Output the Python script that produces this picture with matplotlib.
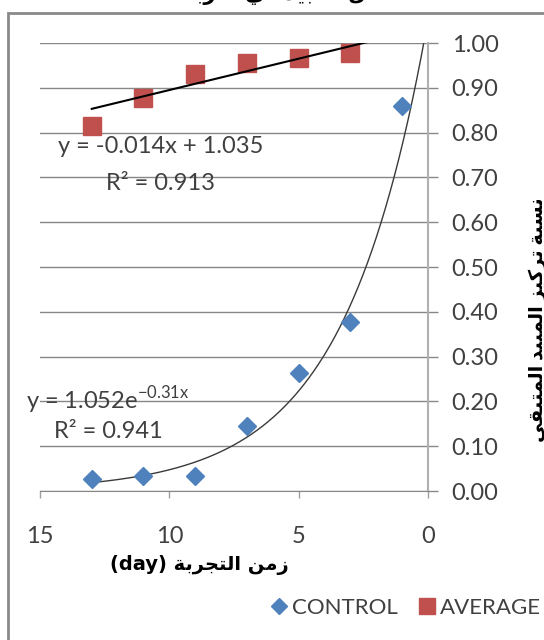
"""Remaining-fraction chart: CONTROL vs AVERAGE over experiment days, with trendlines."""

import matplotlib
matplotlib.use("Agg")
import matplotlib.pyplot as plt
import numpy as np
from matplotlib.patches import Rectangle

# data
days_control = [13, 11, 9, 7, 5, 3, 1]
control = [0.027, 0.034, 0.034, 0.145, 0.263, 0.377, 0.86]
days_average = [13, 11, 9, 7, 5, 3]
average = [0.815, 0.877, 0.93, 0.955, 0.966, 0.977]

# trendline coefficients as printed on the chart
lin_slope, lin_icpt = -0.014, 1.035
exp_a, exp_b = 1.052, -0.31

x_ticks = [15, 10, 5, 0]
y_ticks = [0.0, 0.1, 0.2, 0.3, 0.4, 0.5, 0.6, 0.7, 0.8, 0.9, 1.0]

BLUE = "#4F81BD"
RED = "#C0504D"
GRID = "#878787"
TEXT = "#404040"

# minimal Arabic shaping (isolated, final, initial, medial); None = right-joining only
ARABIC_FORMS = {
    "ا": ("\uFE8D", "\uFE8E", None, None),
    "ب": ("\uFE8F", "\uFE90", "\uFE91", "\uFE92"),
    "ة": ("\uFE93", "\uFE94", None, None),
    "ت": ("\uFE95", "\uFE96", "\uFE97", "\uFE98"),
    "ج": ("\uFE9D", "\uFE9E", "\uFE9F", "\uFEA0"),
    "ح": ("\uFEA1", "\uFEA2", "\uFEA3", "\uFEA4"),
    "د": ("\uFEA9", "\uFEAA", None, None),
    "ر": ("\uFEAD", "\uFEAE", None, None),
    "ز": ("\uFEAF", "\uFEB0", None, None),
    "س": ("\uFEB1", "\uFEB2", "\uFEB3", "\uFEB4"),
    "ف": ("\uFED1", "\uFED2", "\uFED3", "\uFED4"),
    "ق": ("\uFED5", "\uFED6", "\uFED7", "\uFED8"),
    "ك": ("\uFED9", "\uFEDA", "\uFEDB", "\uFEDC"),
    "ل": ("\uFEDD", "\uFEDE", "\uFEDF", "\uFEE0"),
    "م": ("\uFEE1", "\uFEE2", "\uFEE3", "\uFEE4"),
    "ن": ("\uFEE5", "\uFEE6", "\uFEE7", "\uFEE8"),
    "ي": ("\uFEF1", "\uFEF2", "\uFEF3", "\uFEF4"),
}


def shape_arabic(text: str) -> str:
    """Return presentation forms in visual (left-to-right) order."""
    out = []
    for i, ch in enumerate(text):
        forms = ARABIC_FORMS.get(ch)
        if forms is None:
            out.append(ch)
            continue
        prev = text[i - 1] if i > 0 else ""
        nxt = text[i + 1] if i + 1 < len(text) else ""
        joins_prev = prev in ARABIC_FORMS and ARABIC_FORMS[prev][2] is not None
        joins_next = nxt in ARABIC_FORMS and forms[2] is not None
        if joins_prev and joins_next:
            out.append(forms[3])
        elif joins_prev:
            out.append(forms[1])
        elif joins_next:
            out.append(forms[2])
        else:
            out.append(forms[0])
    return "".join(reversed(out))


title_text = shape_arabic("تحلل المبيد في التربة")
xlabel_text = "(day) " + shape_arabic("زمن التجربة")
ylabel_text = shape_arabic("نسبة تركيز المبيد المتبقي")

plt.rcParams["font.family"] = ["Lato", "DejaVu Sans"]
plt.rcParams["mathtext.fontset"] = "custom"
plt.rcParams["mathtext.rm"] = "Lato"

W, H = 544, 640
fig = plt.figure(figsize=(W / 100, H / 100), dpi=100)

# chart frame
fig.patches.append(Rectangle((8 / W, -0.1), 1.2, 1 - 13 / H + 0.1,
                             transform=fig.transFigure, fill=False,
                             edgecolor="#8a8a8a", linewidth=2))

ax = fig.add_axes([40 / W, 1 - 491 / H, 388 / W, 448 / H])
ax.set_xlim(15, 0)
ax.set_ylim(0, 1.0)

ax.set_yticks(y_ticks)
ax.set_yticklabels([f"{v:.2f}" for v in y_ticks])
ax.set_xticks(x_ticks)
ax.set_xticklabels([str(v) for v in x_ticks])
ax.yaxis.tick_right()
ax.tick_params(axis="y", direction="out", length=7, width=1, color=GRID,
               labelsize=17, labelcolor=TEXT, pad=10)
ax.tick_params(axis="x", direction="out", length=5, width=1, color="#a0a0a0",
               labelsize=17, labelcolor=TEXT, pad=20)
ax.grid(axis="y", color=GRID, linewidth=1)
ax.set_axisbelow(True)
for side in ("left", "top"):
    ax.spines[side].set_visible(False)
ax.spines["right"].set_color("#b0b0b0")
ax.spines["right"].set_linewidth(1.5)
ax.spines["bottom"].set_color(GRID)

# trendlines, clipped at the top of the axis
xs = np.linspace(13, 0, 300)
ax.plot(xs, exp_a * np.exp(exp_b * xs), color="#3a3a3a", linewidth=1, zorder=3)
ax.plot(xs, lin_slope * xs + lin_icpt, color="black", linewidth=1.5, zorder=3)

ax.plot(days_control, control, linestyle="none", marker="D", markersize=9,
        color=BLUE, zorder=4, clip_on=False)
ax.plot(days_average, average, linestyle="none", marker="s", markersize=13,
        color=RED, zorder=2, clip_on=False)

ax.text(10.34, 0.768, "y = -0.014x + 1.035", fontsize=17, color=TEXT,
        ha="center", va="center")
ax.text(10.34, 0.6875, "R² = 0.913", fontsize=17, color=TEXT,
        ha="center", va="center")
ax.text(12.37, 0.203, r"y = 1.052e$^{\mathrm{-0.31x}}$", fontsize=17, color=TEXT,
        ha="center", va="center")
ax.text(12.37, 0.132, "R² = 0.941", fontsize=17, color=TEXT,
        ha="center", va="center")

fig.text(199 / W, 1 - 565 / H, xlabel_text, fontsize=14, fontweight="bold",
         family="DejaVu Sans", ha="center", va="center")
fig.text(538 / W, 1 - 320 / H, ylabel_text, fontsize=14, fontweight="bold",
         rotation=90, ha="center", va="center")
fig.text(291 / W, 1 - 5 / H, title_text, fontsize=15, fontweight="bold",
         ha="center", va="bottom")

handles = [
    plt.Line2D([], [], linestyle="none", marker="D", markersize=8, color=BLUE),
    plt.Line2D([], [], linestyle="none", marker="s", markersize=12, color=RED),
]
fig.legend(handles, ["CONTROL", "AVERAGE"], loc="center left",
           bbox_to_anchor=(259 / W, 1 - 608 / H), ncol=2, frameon=False,
           fontsize=16, handlelength=0.8, handletextpad=0.2, columnspacing=0.9,
           borderpad=0, labelcolor=TEXT)

fig.savefig("out.png", dpi=100)
